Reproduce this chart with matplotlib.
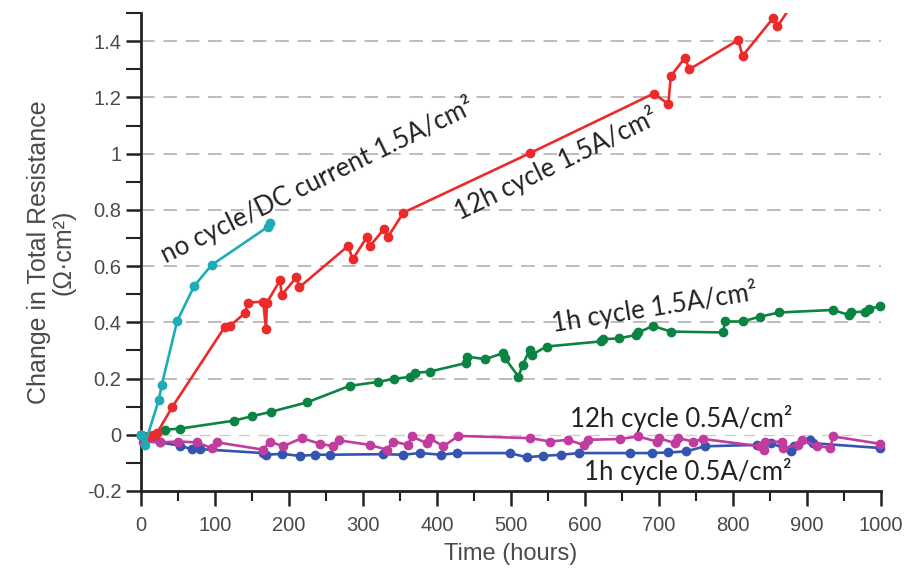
from matplotlib import pyplot as plt
from matplotlib.ticker import MultipleLocator

# Change in total resistance vs time for the different current cycles

# no cycle / DC current 1.5 A/cm2
dc_t = [0, 5, 24, 28, 49, 72, 95.5, 171.5, 174]
dc_r = [0, -0.035, 0.124, 0.178, 0.406, 0.53, 0.604, 0.74, 0.752]

# 12h cycle 1.5 A/cm2
c12_hi_t = [0, 12, 19, 22, 42, 113.5, 120, 140.5, 144.6, 165, 169, 170, 188, 190, 210, 214,
            280, 286, 305, 309, 328, 334, 354.5, 525, 693, 712.6, 716, 735, 741, 807, 813,
            854.5, 860, 880]
c12_hi_r = [0, -0.005, 0.0, 0.008, 0.098, 0.385, 0.387, 0.433, 0.47, 0.474, 0.375, 0.47, 0.55,
            0.497, 0.56, 0.525, 0.672, 0.624, 0.702, 0.67, 0.731, 0.705, 0.79, 1.001, 1.214,
            1.176, 1.276, 1.341, 1.30, 1.404, 1.348, 1.483, 1.453, 1.53]

# 1h cycle 1.5 A/cm2
c1_hi_t = [0, 32, 53, 125, 150, 176, 224, 282, 320, 342, 364, 370, 390.5, 439, 441, 465, 489,
           492, 510, 516, 525, 528, 548, 621, 624, 646, 669, 672, 692, 716, 787, 789, 813, 836,
           862.6, 934.7, 957, 960, 978, 984, 998.6]
c1_hi_r = [0, 0.018, 0.022, 0.05, 0.066, 0.082, 0.115, 0.174, 0.188, 0.199, 0.206, 0.22, 0.225,
           0.255, 0.278, 0.269, 0.29, 0.272, 0.207, 0.249, 0.302, 0.284, 0.314, 0.332, 0.34,
           0.343, 0.355, 0.364, 0.387, 0.367, 0.364, 0.403, 0.403, 0.42, 0.435, 0.444, 0.426,
           0.436, 0.438, 0.447, 0.458]

# 12h cycle 0.5 A/cm2
c12_lo_t = [0, 2, 25, 50, 75, 95.5, 103, 165, 174, 192, 217, 242, 260, 268, 309, 332, 341, 361,
            366, 386, 390, 408.5, 429, 526, 553, 577, 598, 604, 647, 672, 697, 700, 721.6, 726,
            746, 760, 836.5, 842, 843, 866, 868, 888, 893, 913, 931, 935.5, 998.6]
c12_lo_r = [0, -0.024, -0.027, -0.024, -0.027, -0.047, -0.027, -0.053, -0.024, -0.041, -0.012,
            -0.032, -0.041, -0.02, -0.036, -0.053, -0.024, -0.036, -0.006, -0.03, -0.012,
            -0.041, -0.004, -0.012, -0.024, -0.018, -0.036, -0.018, -0.015, -0.006, -0.024,
            -0.012, -0.03, -0.012, -0.024, -0.015, -0.041, -0.053, -0.027, -0.024, -0.047,
            -0.036, -0.018, -0.039, -0.047, -0.006, -0.032]

# 1h cycle 0.5 A/cm2
c1_lo_t = [0, 25, 53, 68.5, 80, 165, 169, 190, 215, 235, 255, 327, 354, 377, 406, 426.6, 498.6,
           521, 543.6, 568, 592, 661, 690, 712.6, 737, 762, 832, 852, 879, 882, 904, 908, 998.6]
c1_lo_r = [0, -0.027, -0.039, -0.051, -0.051, -0.065, -0.071, -0.068, -0.075, -0.071, -0.071,
           -0.069, -0.071, -0.065, -0.071, -0.065, -0.065, -0.08, -0.075, -0.071, -0.065,
           -0.065, -0.065, -0.063, -0.059, -0.041, -0.036, -0.03, -0.059, -0.041, -0.018,
           -0.03, -0.047]

axis_font = ['Liberation Sans Narrow', 'Liberation Sans', 'DejaVu Sans']
note_font = ['Lato', 'DejaVu Sans']
grey = '#4a4a4a'

fig = plt.figure(figsize=(9.07, 5.70), dpi=100)
ax = fig.add_axes([0.1555, 0.1386, 0.8158, 0.8384])

for y in [0.2, 0.4, 0.6, 0.8, 1.0, 1.2, 1.4]:
    ax.axhline(y, color='#bdbdbd', lw=1.4, ls=(0, (7, 4.5)), zorder=0)
ax.axhline(0, color='#cccccc', lw=1.0, ls=(0, (8, 6)), zorder=0)

ms = 6
lw = 1.9
ax.plot(c1_lo_t, c1_lo_r, '-o', color='#3454b0', lw=lw, ms=ms, clip_on=False, zorder=3)
ax.plot(c12_lo_t, c12_lo_r, '-o', color='#c03c9e', lw=lw, ms=ms, clip_on=False, zorder=4)
ax.plot(c1_hi_t, c1_hi_r, '-o', color='#0b8443', lw=lw, ms=ms, clip_on=False, zorder=5)
ax.plot(c12_hi_t, c12_hi_r, '-o', color='#ec2a2a', lw=lw, ms=ms, zorder=6)
ax.plot(dc_t, dc_r, '-o', color='#1eacb8', lw=lw, ms=ms, clip_on=False, zorder=7)

ax.set_xlim(0, 1000)
ax.set_ylim(-0.2, 1.5)
ax.xaxis.set_major_locator(MultipleLocator(100))
ax.xaxis.set_minor_locator(MultipleLocator(50))
ax.yaxis.set_minor_locator(MultipleLocator(0.1))
ax.set_yticks([-0.2, 0, 0.2, 0.4, 0.6, 0.8, 1.0, 1.2, 1.4])
ax.set_yticklabels(['-0.2', '0', '0.2', '0.4', '0.6', '0.8', '1', '1.2', '1.4'])

for s in ['top', 'right']:
    ax.spines[s].set_visible(False)
for s in ['left', 'bottom']:
    ax.spines[s].set_linewidth(2)
    ax.spines[s].set_color('#222222')
ax.tick_params(which='major', length=11, width=1.8, color='#222222', labelsize=14.5,
               labelcolor=grey)
ax.tick_params(which='minor', length=7, width=1.5, color='#222222')
ax.tick_params(axis='y', which='both', length=11, pad=3)
ax.tick_params(axis='x', which='major', pad=7)
for lab in ax.get_xticklabels() + ax.get_yticklabels():
    lab.set_family(axis_font)

ax.set_xlabel('Time (hours)', family=axis_font, fontsize=17, color=grey, labelpad=6)
ax.set_ylabel('Change in Total Resistance\n(Ω·cm²)', family=axis_font, fontsize=18,
              color=grey, labelpad=8, linespacing=1.05)

note = dict(family=note_font, fontsize=18.5, color='#222222')
rot = dict(ha='left', va='baseline', rotation_mode='anchor')
ax.text(33.8, 0.611, 'no cycle/DC current 1.5A/cm²', rotation=26, **rot, **note)
ax.text(431, 0.764, '12h cycle 1.5A/cm²', rotation=26, **rot, **note)
ax.text(557, 0.366, '1h cycle 1.5A/cm²', rotation=9, **rot, **note)
ax.text(730, 0.028, '12h cycle 0.5A/cm²', ha='center', va='baseline', **note)
ax.text(739, -0.16, '1h cycle 0.5A/cm²', ha='center', va='baseline', **note)

plt.savefig('out.png')
